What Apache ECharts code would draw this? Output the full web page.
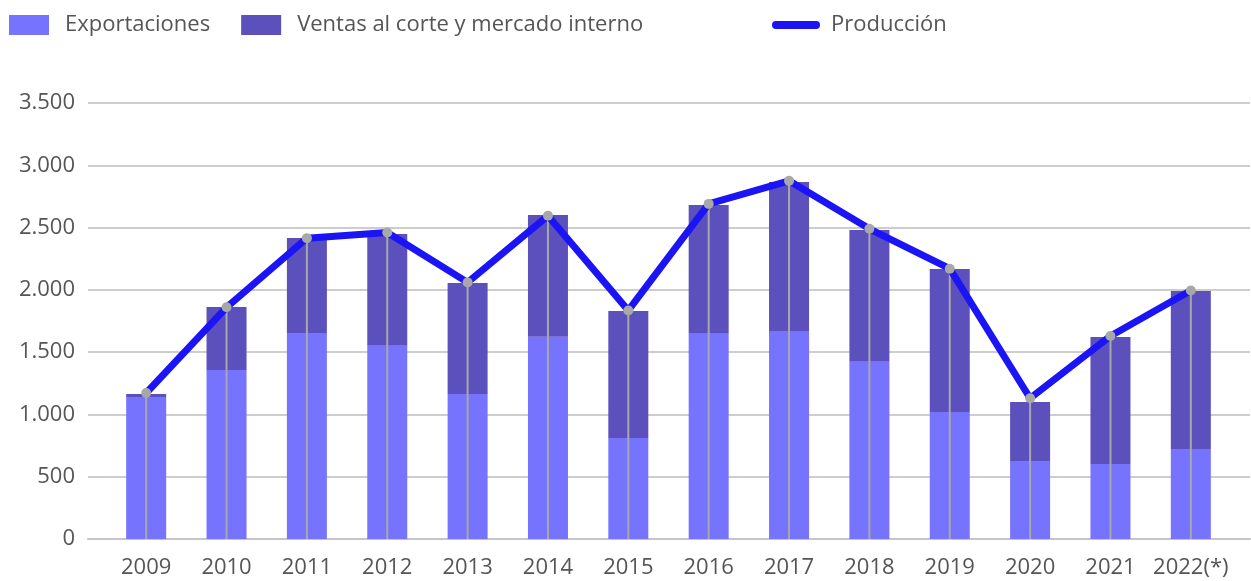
<!DOCTYPE html>
<html>
<head>
<meta charset="utf-8">
<script src="https://cdn.jsdelivr.net/npm/echarts@6/dist/echarts.min.js"></script>
<style>
  html, body { margin: 0; padding: 0; background: #fff; }
  #chart { width: 1251px; height: 581px; }
</style>
</head>
<body>
<div id="chart"></div>
<script>
const years = ['2009', '2010', '2011', '2012', '2013', '2014', '2015', '2016', '2017', '2018', '2019', '2020', '2021', '2022(*)']
const exportaciones = [1140, 1357, 1654, 1552, 1164, 1624, 811, 1648, 1670, 1423, 1020, 626, 602, 722]
const ventasInterno = [24, 505, 762, 896, 891, 977, 1019, 1033, 1196, 1057, 1147, 474, 1020, 1269]
const produccion = [1172, 1860, 2415, 2460, 2060, 2595, 1835, 2690, 2875, 2490, 2170, 1130, 1630, 1995]

const FONT = 'Open Sans'
const TEXT = '#555555'
const LINE_COLOR = '#1b14f5'

const chart = echarts.init(document.getElementById('chart'))

const option = {
  animation: false,
  textStyle: { fontFamily: FONT },
  legend: [
    {
      left: 4,
      top: 9,
      itemWidth: 40,
      itemHeight: 20,
      itemGap: 31,
      icon: 'rect',
      data: ['Exportaciones', 'Ventas al corte y mercado interno'],
      textStyle: { fontFamily: FONT, fontSize: 22, color: TEXT, padding: [0, 0, 0, 11] }
    },
    {
      left: 767,
      top: 9,
      itemWidth: 48,
      itemHeight: 8,
      data: [{
        name: 'Producción',
        icon: 'path://M4,0 H44 A4,4 0 0 1 44,8 H4 A4,4 0 0 1 4,0 Z',
        itemStyle: { color: LINE_COLOR }
      }],
      textStyle: { fontFamily: FONT, fontSize: 22, color: TEXT, padding: [0, 0, 0, 6] }
    }
  ],
  grid: [
    { left: 88, right: 1, top: 103, bottom: 42 },
    { left: 106, right: 20, top: 103, bottom: 42 }
  ],
  xAxis: [
    {
      gridIndex: 0,
      type: 'value',
      min: 0,
      max: 1,
      axisLine: { show: true, onZero: false, lineStyle: { color: '#c4c4cc', width: 2 } },
      axisTick: { show: false },
      axisLabel: { show: false },
      splitLine: { show: false }
    },
    {
      gridIndex: 1,
      type: 'category',
      data: years,
      axisLine: { show: false },
      axisTick: { show: false },
      axisLabel: { fontFamily: FONT, fontSize: 22, color: TEXT, margin: 18, interval: 0 }
    }
  ],
  yAxis: [
    {
      gridIndex: 0,
      type: 'value',
      min: 0,
      max: 3500,
      interval: 500,
      axisLine: { show: false },
      axisTick: { show: false },
      axisLabel: {
        fontFamily: FONT, fontSize: 22, color: TEXT, margin: 13,
        formatter: v => v.toLocaleString('de-DE')
      },
      splitLine: { lineStyle: { color: '#bdbdbd', width: 1.5 } }
    },
    {
      gridIndex: 1,
      type: 'value',
      min: 0,
      max: 3500,
      interval: 500,
      show: false,
      splitLine: { show: false }
    }
  ],
  series: [
    {
      name: 'Exportaciones',
      type: 'bar',
      xAxisIndex: 1,
      yAxisIndex: 1,
      stack: 'total',
      barWidth: 40,
      itemStyle: { color: '#7673ff' },
      data: exportaciones
    },
    {
      name: 'Ventas al corte y mercado interno',
      type: 'bar',
      xAxisIndex: 1,
      yAxisIndex: 1,
      stack: 'total',
      barWidth: 40,
      itemStyle: { color: '#5b50bc' },
      data: ventasInterno
    },
    {
      name: 'dropLines',
      type: 'custom',
      xAxisIndex: 1,
      yAxisIndex: 1,
      z: 3,
      silent: true,
      data: produccion.map((v, i) => [i, v]),
      encode: { x: 0, y: 1 },
      renderItem: (params, api) => {
        const top = api.coord([api.value(0), api.value(1)])
        const base = api.coord([api.value(0), 0])
        return {
          type: 'line',
          shape: { x1: top[0], y1: top[1], x2: base[0], y2: base[1] },
          style: { stroke: '#a8a8a8', lineWidth: 2 }
        }
      }
    },
    {
      name: 'Producción',
      type: 'line',
      xAxisIndex: 1,
      yAxisIndex: 1,
      z: 4,
      symbol: 'circle',
      symbolSize: 10,
      showAllSymbol: true,
      lineStyle: { color: LINE_COLOR, width: 7 },
      itemStyle: { color: '#a8a8a8', borderWidth: 0 },
      data: produccion
    }
  ]
}

chart.setOption(option)
</script>
</body>
</html>
